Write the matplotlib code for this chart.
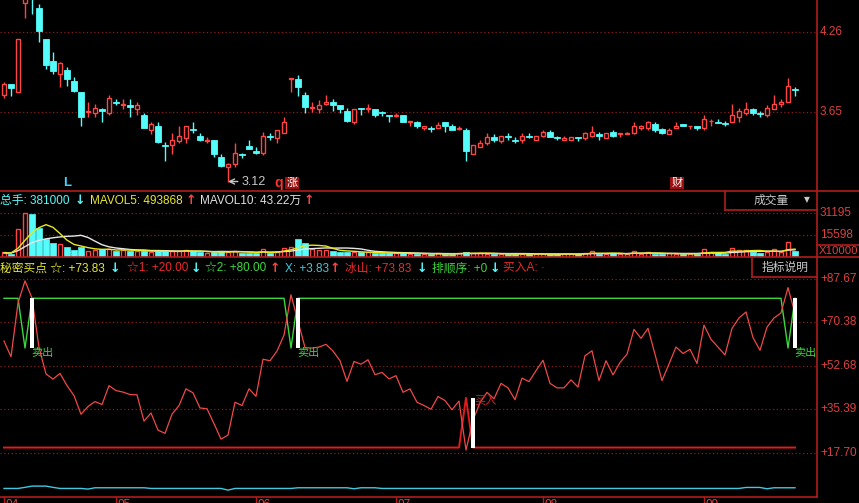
import matplotlib
matplotlib.use('Agg')
import matplotlib.pyplot as plt
import numpy as np
import pandas as pd
from matplotlib.lines import Line2D
from matplotlib.patches import Rectangle
import matplotlib.transforms as mtransforms

# ---------------- data ----------------
open_ = [3.78, 3.86, 3.80, 4.48, 4.62, 4.44, 4.21, 4.04, 3.94, 3.97,
         3.89, 3.80, 3.65, 3.64, 3.67, 3.64, 3.73, 3.70, 3.70, 3.67,
         3.63, 3.51, 3.54, 3.40, 3.40, 3.43, 3.45, 3.52, 3.47, 3.43,
         3.44, 3.31, 3.23, 3.25, 3.33, 3.39, 3.35, 3.34, 3.47, 3.45,
         3.49, 3.90, 3.90, 3.78, 3.68, 3.67, 3.71, 3.73, 3.70, 3.66,
         3.57, 3.68, 3.67, 3.67, 3.65, 3.625, 3.62, 3.63, 3.57, 3.57,
         3.53, 3.53, 3.53, 3.57, 3.54, 3.52, 3.51, 3.33, 3.38, 3.41,
         3.46, 3.43, 3.47, 3.44, 3.44, 3.47, 3.44, 3.47, 3.50, 3.46,
         3.44, 3.44, 3.46, 3.45, 3.47, 3.48, 3.45, 3.50, 3.48, 3.485,
         3.49, 3.53, 3.53, 3.56, 3.52, 3.48, 3.53, 3.56, 3.54, 3.54,
         3.53, 3.58, 3.57, 3.565, 3.57, 3.61, 3.64, 3.67, 3.64, 3.63,
         3.67, 3.71, 3.73, 3.825]
high = [3.88, 3.86, 4.21, 4.65, 4.66, 4.47, 4.21, 4.11, 4.03, 3.99,
        3.92, 3.80, 3.73, 3.71, 3.68, 3.78, 3.75, 3.75, 3.75, 3.73,
        3.64, 3.57, 3.57, 3.42, 3.49, 3.54, 3.54, 3.57, 3.49, 3.46,
        3.44, 3.33, 3.26, 3.41, 3.34, 3.44, 3.38, 3.50, 3.49, 3.51,
        3.61, 3.91, 3.93, 3.80, 3.73, 3.74, 3.78, 3.75, 3.70, 3.68,
        3.67, 3.68, 3.71, 3.67, 3.66, 3.625, 3.64, 3.63, 3.58, 3.58,
        3.54, 3.54, 3.57, 3.57, 3.56, 3.54, 3.53, 3.40, 3.44, 3.49,
        3.48, 3.47, 3.49, 3.46, 3.49, 3.49, 3.47, 3.51, 3.51, 3.47,
        3.47, 3.46, 3.46, 3.50, 3.54, 3.50, 3.49, 3.51, 3.49, 3.50,
        3.57, 3.55, 3.58, 3.57, 3.53, 3.53, 3.57, 3.56, 3.545, 3.54,
        3.63, 3.60, 3.60, 3.58, 3.71, 3.68, 3.73, 3.68, 3.66, 3.70,
        3.78, 3.75, 3.91, 3.84]
low = [3.76, 3.77, 3.80, 4.37, 4.40, 4.18, 3.98, 3.94, 3.84, 3.85,
       3.80, 3.54, 3.61, 3.61, 3.57, 3.63, 3.70, 3.67, 3.61, 3.63,
       3.53, 3.48, 3.41, 3.28, 3.33, 3.41, 3.41, 3.49, 3.43, 3.41,
       3.31, 3.23, 3.12, 3.23, 3.30, 3.37, 3.33, 3.32, 3.44, 3.41,
       3.49, 3.80, 3.77, 3.64, 3.65, 3.64, 3.70, 3.66, 3.64, 3.57,
       3.56, 3.63, 3.65, 3.61, 3.62, 3.57, 3.61, 3.57, 3.54, 3.53,
       3.51, 3.50, 3.53, 3.50, 3.51, 3.51, 3.28, 3.33, 3.38, 3.40,
       3.42, 3.41, 3.44, 3.41, 3.41, 3.45, 3.44, 3.46, 3.46, 3.44,
       3.44, 3.44, 3.43, 3.44, 3.46, 3.44, 3.45, 3.46, 3.46, 3.48,
       3.48, 3.51, 3.51, 3.50, 3.48, 3.48, 3.53, 3.54, 3.52, 3.51,
       3.51, 3.54, 3.565, 3.54, 3.57, 3.57, 3.63, 3.63, 3.61, 3.61,
       3.67, 3.69, 3.73, 3.77]
close = [3.86, 3.83, 4.21, 4.60, 4.52, 4.27, 4.01, 3.96, 4.02, 3.90,
         3.81, 3.61, 3.66, 3.68, 3.66, 3.76, 3.72, 3.71, 3.69, 3.70,
         3.53, 3.56, 3.42, 3.39, 3.44, 3.47, 3.54, 3.51, 3.44, 3.44,
         3.33, 3.24, 3.25, 3.34, 3.32, 3.37, 3.34, 3.47, 3.46, 3.51,
         3.57, 3.91, 3.84, 3.69, 3.69, 3.70, 3.73, 3.70, 3.67, 3.58,
         3.67, 3.67, 3.68, 3.63, 3.64, 3.62, 3.63, 3.57, 3.58, 3.54,
         3.54, 3.52, 3.55, 3.54, 3.51, 3.53, 3.35, 3.40, 3.41, 3.46,
         3.44, 3.47, 3.46, 3.43, 3.47, 3.46, 3.47, 3.50, 3.46, 3.45,
         3.45, 3.46, 3.455, 3.49, 3.50, 3.47, 3.49, 3.47, 3.49, 3.49,
         3.54, 3.54, 3.57, 3.51, 3.49, 3.51, 3.54, 3.54, 3.545, 3.53,
         3.60, 3.585, 3.565, 3.56, 3.63, 3.66, 3.67, 3.64, 3.635, 3.68,
         3.71, 3.73, 3.85, 3.82]

volume = [3000, 1800, 19500, 31400, 30500, 20200, 12500, 10000, 9000, 7000,
          4700, 7000, 4100, 4700, 5200, 5200, 4100, 4700, 3600, 4100,
          4100, 3000, 4100, 3600, 3600, 4100, 4700, 3600, 3400, 2300,
          2900, 4100, 3400, 4100, 2300, 2300, 2300, 5400, 2300, 3400,
          5900, 7000, 12500, 9900, 5400, 4800, 4800, 4100, 2900, 3400,
          3400, 2900, 2900, 2300, 2300, 2300, 2300, 2900, 1800, 1800,
          1800, 1800, 2300, 1800, 1800, 2300, 3400, 2300, 2300, 1800,
          1800, 1800, 1800, 1800, 1800, 1800, 1800, 1800, 1800, 1800,
          1800, 1800, 1800, 2300, 4100, 1800, 1800, 2300, 1800, 1800,
          4100, 1800, 2900, 1800, 1800, 2300, 1800, 1800, 1800, 1800,
          5400, 3400, 2300, 1800, 6400, 4800, 4800, 3400, 2300, 3400,
          5400, 2900, 10600, 4100]
# volumes just before the visible window (estimated from where the MA lines start)
volume_prev = [2600, 2400, 2300, 2700, 2500, 2200, 2600, 2800, 2400]

star = [62.8, 56.5, 78.1, 87.0, 80.1, 60.2, 49.6, 47.5, 49.8, 44.9,
        40.9, 33.4, 36.5, 38.5, 37.3, 44.9, 42.9, 42.3, 41.3, 41.2,
        30.6, 33.9, 27.0, 25.7, 33.4, 36.9, 43.6, 42.0, 35.9, 35.6,
        29.6, 23.4, 25.0, 38.2, 36.9, 43.6, 40.6, 55.5, 54.9, 58.8,
        65.2, 81.4, 70.8, 60.2, 60.0, 60.4, 61.5, 58.8, 54.9, 46.6,
        54.6, 53.5, 55.3, 49.3, 50.2, 47.6, 48.9, 42.2, 43.6, 38.2,
        36.9, 35.4, 40.5, 38.9, 35.2, 38.7, 19.0, 31.0, 38.0, 42.2,
        39.6, 45.8, 44.0, 39.2, 47.9, 46.5, 50.9, 55.1, 45.8, 44.0,
        44.0, 47.2, 44.3, 56.9, 58.9, 46.9, 54.9, 49.2, 54.2, 57.5,
        67.5, 63.9, 67.9, 57.5, 46.9, 53.6, 60.4, 57.8, 59.5, 53.8,
        69.2, 63.5, 60.4, 57.2, 67.9, 72.1, 74.5, 64.2, 59.1, 68.4,
        72.1, 74.1, 84.3, 73.83]
star1_level = 20.0
star2_level = 80.0
star1_peak = {66: 40.0}          # red 20-line jumps at the buy bar
star2_dip = {3: 60.0, 41: 60.0, 112: 60.0}   # green 80-line dips at sell bars
x_line = [3.56, 3.56, 3.56, 4.0, 4.5, 4.5, 4.5, 4.0, 3.56, 3.56,
          3.56, 3.56, 3.3, 3.83, 3.83, 3.83, 3.83, 3.83, 3.83, 3.83,
          3.83, 3.56, 3.56, 3.56, 3.56, 3.56, 3.56, 3.56, 3.56, 3.56,
          3.56, 3.56, 2.9, 3.56, 3.56, 3.56, 3.56, 3.56, 3.56, 3.56,
          3.56, 3.56, 3.83, 3.83, 3.83, 3.83, 3.83, 3.83, 3.83, 3.83,
          3.43, 3.83, 3.83, 3.83, 3.56, 3.56, 3.56, 3.56, 3.56, 3.56,
          3.56, 3.56, 3.56, 3.56, 3.56, 3.56, 3.56, 3.56, 3.56, 3.56,
          3.56, 3.56, 3.56, 3.56, 3.56, 3.56, 3.56, 3.56, 3.56, 3.56,
          3.56, 3.56, 3.56, 3.56, 3.56, 3.56, 3.56, 3.56, 3.56, 3.56,
          3.56, 3.56, 3.56, 3.56, 3.56, 3.56, 3.56, 3.56, 3.56, 3.56,
          3.56, 3.56, 3.56, 3.56, 3.56, 3.56, 3.96, 3.96, 3.96, 3.43,
          3.83, 3.83, 3.83, 3.83]
sell_idx = [4, 42, 113]
buy_idx = [67]

price_ticks = [4.26, 3.65]
vol_ticks = [31195, 15598]
ind_ticks = [87.67, 70.38, 52.68, 35.39, 17.70]
month_idx = [0, 16, 36, 56, 77, 100]
month_labels = ['04', '05', '06', '07', '08', '09']

# ---------------- style ----------------
W, H = 859, 503
RED = '#ff4444'
CYAN = '#54fcfc'
BORDER = '#b01c1c'
GRID = '#8a1c1c'
LAB = '#dc4040'
GRAY = '#c8c8c8'
YEL = '#e8e830'
GREEN = '#3ad83a'
FAM = ['Liberation Sans', 'Noto Sans CJK SC', 'DejaVu Sans']
plt.rcParams['font.family'] = FAM

fig = plt.figure(figsize=(W / 100, H / 100), dpi=100, facecolor='black')


def fx(x):
    return x / W


def fy(y):
    return 1 - y / H


PLOT_R = 817
XL = (-4 / 7, (PLOT_R - 4) / 7)
N = len(close)
idx = np.arange(N)


def make_ax(top, bottom):
    ax = fig.add_axes([0, fy(bottom), PLOT_R / W, (bottom - top) / H])
    ax.set_xlim(*XL)
    ax.set_axis_off()
    return ax


def grid_and_labels(ax, ticks, labels):
    tr = mtransforms.blended_transform_factory(ax.transAxes, ax.transData)
    for t, s in zip(ticks, labels):
        ax.axhline(t, color=GRID, lw=0.9, ls=(0, (1, 2)), zorder=0)
        ax.text(1 + 3 / PLOT_R, t, s, transform=tr, color=LAB, fontsize=8.5,
                ha='left', va='center', clip_on=False)


# ---- price panel ----
axp = make_ax(0, 191)
axp.set_ylim(3.65 - 79 * 0.007625, 3.65 + 112 * 0.007625)
grid_and_labels(axp, price_ticks, [f'{t:.2f}' for t in price_ticks])
for i in range(N):
    o, h, l, c = open_[i], high[i], low[i], close[i]
    up = c >= o
    col = RED if up else CYAN
    axp.vlines(i, l, h, color=col, lw=1, zorder=2)
    bh = max(abs(c - o), 0.002)
    if up:
        axp.add_patch(Rectangle((i - 0.32, min(o, c)), 0.64, bh, facecolor='black',
                                edgecolor=col, lw=1, zorder=3))
    else:
        axp.add_patch(Rectangle((i - 0.36, min(o, c)), 0.72, bh, facecolor=col,
                                edgecolor=col, lw=0.6, zorder=3))

imin = int(np.argmin(low))
axp.annotate(f'{low[imin]:.2f}', xy=(imin, low[imin]), xytext=(imin + 2.0, low[imin]),
             color=GRAY, fontsize=9, va='center', ha='left',
             arrowprops=dict(arrowstyle='->', color=GRAY, lw=1, shrinkA=1, shrinkB=0))
trp = mtransforms.blended_transform_factory(axp.transData, axp.transAxes)
axp.text(9.0, 1 - 183 / 191, 'L', transform=trp, color='#40d0ff', fontsize=9.5,
         ha='center', va='center', fontweight='bold')
axp.text(39.2, 1 - 183 / 191, 'q', transform=trp, color='#ff3030', fontsize=10,
         ha='center', va='center', fontweight='bold')
for xi, s in [(41.1, '涨'), (96.1, '财')]:
    axp.text(xi, 1 - 183 / 191, s, transform=trp, color='white', fontsize=8,
             ha='center', va='center',
             bbox=dict(boxstyle='square,pad=0.12', facecolor='#9a1010', edgecolor='none'))

# ---- volume panel ----
axv = make_ax(191, 257)
axv.set_ylim(-0.5 * 717, 65.5 * 717)
grid_and_labels(axv, vol_ticks, [str(t) for t in vol_ticks])
for i in range(N):
    up = close[i] >= open_[i]
    if up:
        axv.add_patch(Rectangle((i - 0.32, 0), 0.64, volume[i], facecolor='black',
                                edgecolor=RED, lw=1, zorder=3))
    else:
        axv.add_patch(Rectangle((i - 0.36, 0), 0.72, volume[i], facecolor=CYAN,
                                edgecolor=CYAN, lw=0.5, zorder=3))
vs = pd.Series(volume_prev + volume, dtype=float)
ma5 = vs.rolling(5, min_periods=1).mean().values[len(volume_prev):]
ma10 = vs.rolling(10, min_periods=1).mean().values[len(volume_prev):]
axv.plot(idx, ma10, color='#e8e8e8', lw=1, zorder=4)
axv.plot(idx, ma5, color='#e8e820', lw=1, zorder=5)

# ---- indicator panel ----
axi = make_ax(257, 497)
axi.set_ylim(0.12, 96.6)
grid_and_labels(axi, ind_ticks, [f'+{t:.2f}' for t in ind_ticks])
red_line = [star1_peak.get(i, star1_level) for i in range(N)]
green_line = [star2_dip.get(i, star2_level) for i in range(N)]
axi.plot(idx, red_line, color='#e01c1c', lw=1.4, zorder=3)
axi.plot(idx, green_line, color=GREEN, lw=1, zorder=3)
axi.plot(idx, star, color='#f04848', lw=0.9, zorder=4)
axi.plot(idx, x_line, color='#40c8e0', lw=1, zorder=3)
for i in sell_idx:
    axi.bar(i, star2_level - 60.0, bottom=60.0, width=0.55, color='white', zorder=5)
    axi.text(i - 0.05, 60.0, '卖出', color=GREEN, fontsize=8, ha='left', va='top',
             zorder=6, clip_on=False)
for i in buy_idx:
    axi.bar(i, 40.0 - star1_level, bottom=star1_level, width=0.55, color='white', zorder=5)
    axi.text(i + 0.25, 40.8, '买入', color='#e02020', fontsize=8, ha='left', va='top',
             zorder=6)

# month ticks on bottom axis (labels are cut by the lower edge, as in the original)
trb = mtransforms.blended_transform_factory(axi.transData, fig.transFigure)
for mi, ml in zip(month_idx, month_labels):
    xx = max(mi, -0.4)
    axi.add_line(Line2D([xx, xx], [fy(497), fy(503)], transform=trb, color=BORDER,
                        lw=1, clip_on=False))
    axi.text(xx + 0.2, fy(498.5), ml, transform=trb, color=LAB, fontsize=8.5,
             ha='left', va='top', clip_on=False)

# ---------------- frame lines ----------------
def hline(y, x0, x1):
    fig.add_artist(Line2D([fx(x0), fx(x1)], [fy(y), fy(y)], color=BORDER, lw=1.2))


def vline(x, y0, y1):
    fig.add_artist(Line2D([fx(x), fx(x)], [fy(y0), fy(y1)], color=BORDER, lw=1.2))


hline(191, 0, W)
hline(257, 0, W)
hline(497, 0, PLOT_R)
vline(PLOT_R, 0, 497)
hline(245, PLOT_R, W)
vline(725, 191, 210)
hline(210, 725, PLOT_R)
vline(752, 257, 277)
hline(277, 752, PLOT_R)

fig.text(fx(771), fy(201), '成交量', color=GRAY, fontsize=8.5, ha='center', va='center')
fig.text(fx(807), fy(200), '▼', color=GRAY, fontsize=5.5, ha='center', va='center',
         family=['DejaVu Sans'])
fig.text(fx(785), fy(268), '指标说明', color=GRAY, fontsize=8.5, ha='center', va='center')
fig.text(fx(818.5), fy(251.5), 'X10000', color=LAB, fontsize=8.2, ha='left', va='center')

# ---------------- headers ----------------
def seg(x, y, s, col, **kw):
    fig.text(fx(x), fy(y), s, color=col, fontsize=8.5, ha='left', va='center', **kw)


def arrow(x, y, s, col):
    fig.text(fx(x), fy(y), s, color=col, fontsize=9, ha='left', va='center',
             family=['DejaVu Sans'], fontweight='bold')


UP = '↑'
DN = '↓'
y1 = 201
seg(0, y1, '总手: 381000', CYAN)
arrow(75, y1, DN, CYAN)
seg(90, y1, 'MAVOL5: 493868', YEL)
arrow(186, y1, UP, RED)
seg(200, y1, 'MAVOL10: 43.22万', '#e0e0e0')
arrow(304, y1, UP, RED)

y2 = 268.5
seg(0, y2, '秘密买点 ☆: +73.83', YEL)
arrow(110, y2, DN, CYAN)
seg(127, y2, '☆1: +20.00', '#ee2828')
arrow(191, y2, DN, CYAN)
seg(205, y2, '☆2: +80.00', GREEN)
arrow(270, y2, UP, RED)
seg(285, y2, 'X: +3.83', '#40c8e0')
arrow(330, y2, UP, RED)
seg(345, y2, '冰山: +73.83', '#ee2828')
arrow(417, y2, DN, CYAN)
seg(432, y2, '排顺序: +0', GREEN)
arrow(490, y2, DN, CYAN)
seg(503, y2, '买入A: ·', '#ee2828')

fig.savefig('out.png', dpi=100, facecolor='black')
